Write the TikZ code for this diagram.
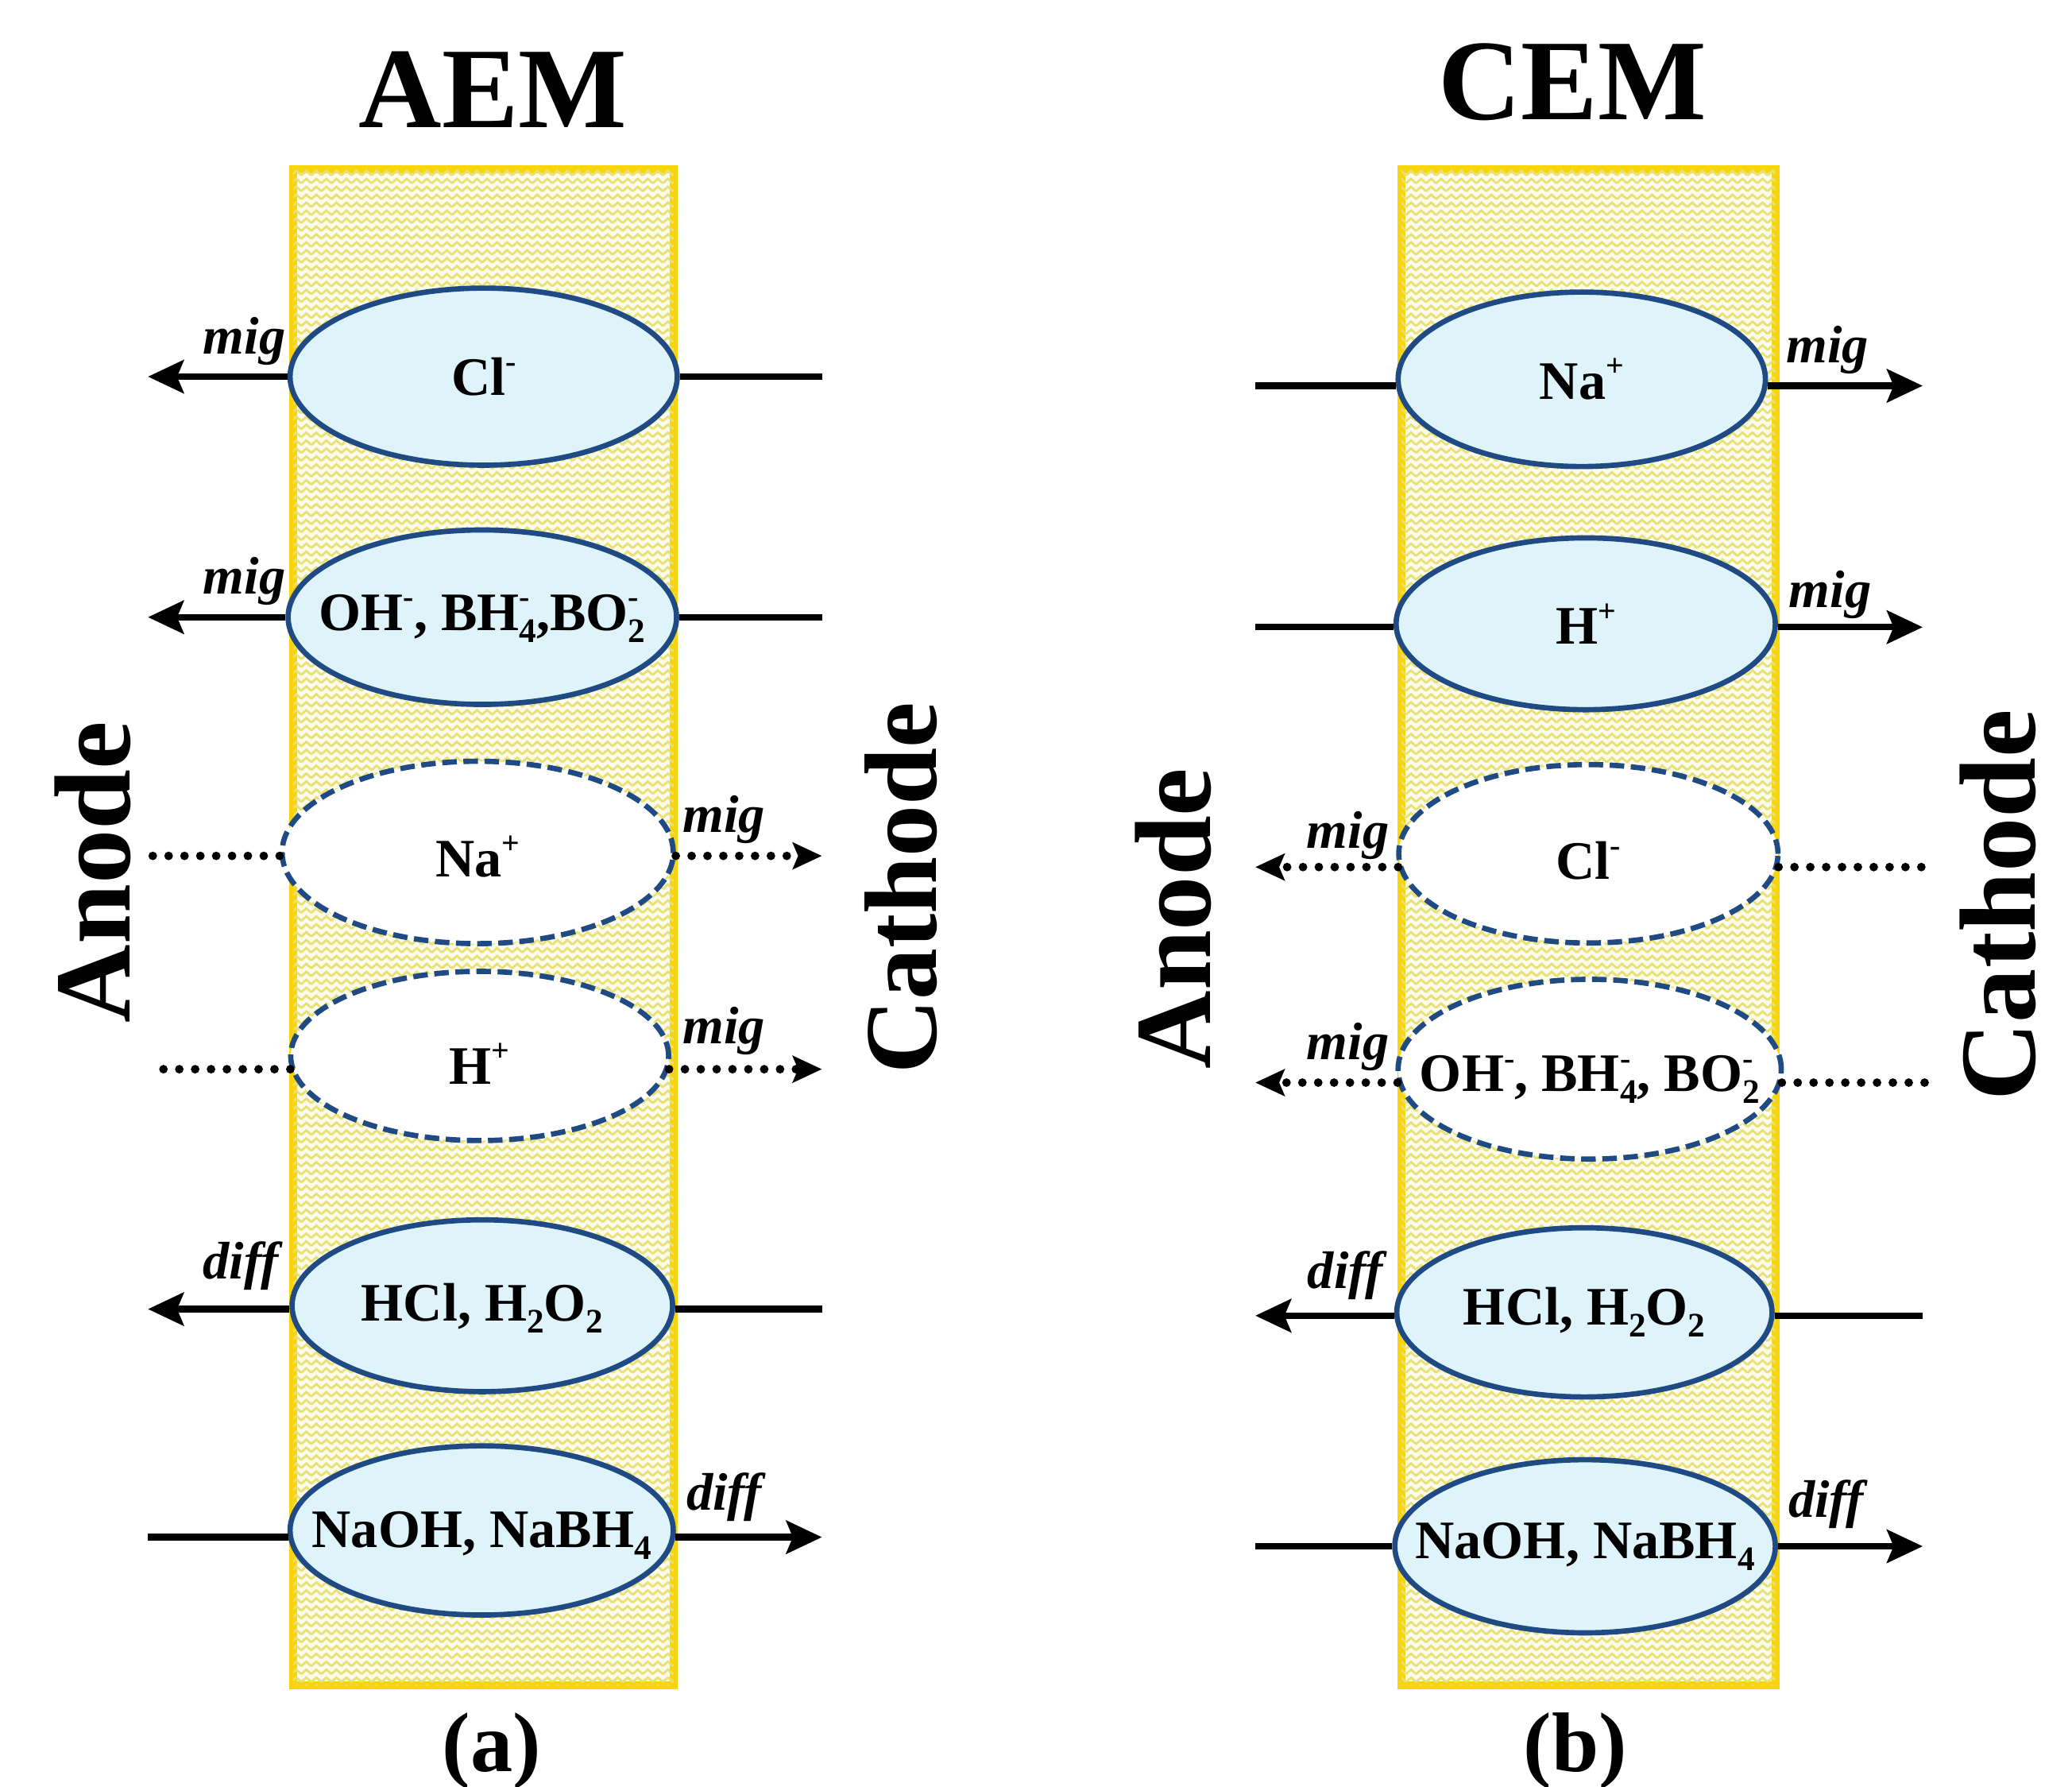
\documentclass[tikz,border=0pt]{standalone}
\usepackage{fontspec}
\setmainfont{Liberation Serif}
\usetikzlibrary{shapes.geometric,arrows.meta,patterns.meta}
\definecolor{ebord}{RGB}{32,74,132}
\definecolor{efill}{RGB}{222,243,250}
\definecolor{mbord}{RGB}{248,212,10}
\definecolor{mzig}{RGB}{232,226,118}
\definecolor{mbg}{RGB}{253,251,236}
\newcommand\myfs[1]{\fontsize{#1}{#1}\selectfont}
\newcommand\supx[1]{\raisebox{0.42em}{\myfs{24}#1}}
\newcommand\subx[1]{\raisebox{-0.22em}{\myfs{26}#1}}
\newcommand\supm{\supx{-}}
\tikzdeclarepattern{
  name=zz,
  type=uncolored,
  bounding box={(-1pt,-1pt) and (8.6pt,7pt)},
  tile size={(7.6pt,6pt)},
  code={\draw[line width=1.7pt] (0pt,1.3pt) -- (3.8pt,4.7pt) -- (7.6pt,1.3pt);}
}
\begin{document}
\begin{tikzpicture}[x=1pt,y=-1pt,
  ion/.style={ellipse, draw=ebord, line width=4pt, fill=efill, inner sep=0pt},
  ionx/.style={ellipse, draw=ebord, line width=4pt, fill=white, dash pattern=on 11pt off 5pt, inner sep=0pt},
  txt/.style={font=\myfs{41}\bfseries, inner sep=0pt},
  tag/.style={font=\myfs{40}\bfseries\itshape, inner sep=0pt},
  big/.style={font=\myfs{82}\bfseries, inner sep=0pt},
  flow/.style={line width=5pt},
  arr/.style={line width=5pt, -{Stealth[length=27pt,width=25pt,inset=5pt]}},
  dotl/.style={line width=6.5pt, line cap=round, dash pattern=on 0pt off 12pt},
  dotarr/.style={line width=6.5pt, line cap=round, dash pattern=on 0pt off 12pt, -{Stealth[length=22pt,width=20pt,inset=4pt]}},
  membrane/.style={draw=mbord, line width=6pt, fill=mbg, postaction={pattern=zz, pattern color=mzig}}
  ]
\useasboundingbox (0,0) rectangle (1568,1352);
\fill[white] (0,0) rectangle (1568,1352);

% free ends
\coordinate (aL) at (112,0);
\coordinate (aR) at (622,0);
\coordinate (bL) at (950,0);
\coordinate (bR) at (1455,0);
\coordinate (bRd) at (1460,0);

% membranes
\node[membrane, minimum width=288pt, minimum height=1147pt, inner sep=0pt] (memA) at (366,701.5) {};
\node[membrane, minimum width=283pt, minimum height=1147pt, inner sep=0pt] (memB) at (1202,701.5) {};

% titles
\node[big, font=\myfs{87}\bfseries] (tA) at (373,68) {AEM};
\node[big, font=\myfs{87}\bfseries] (tB) at (1190,62) {CEM};
\node[big, font=\myfs{64}\bfseries] (capA) at (372,1325) {(a)};
\node[big, font=\myfs{64}\bfseries] (capB) at (1192,1325) {(b)};

\node[big, rotate=90] (anA) at (70,660) {Anode};
\node[big, rotate=90, font=\myfs{78}\bfseries] (caA) at (682,672) {Cathode};
\node[big, rotate=90] (anB) at (888,695) {Anode};
\node[big, rotate=90] (caB) at (1512,685) {Cathode};

% ---------- panel (a)
\node[ion, minimum width=293pt, minimum height=134pt] (a1) at (366,285) {};
\node[ion, minimum width=294pt, minimum height=132pt] (a2) at (365,467) {};
\node[ionx, minimum width=296pt, minimum height=138pt] (a3) at (361.5,645) {};
\node[ionx, minimum width=286pt, minimum height=128pt] (a4) at (363,799) {};
\node[ion, minimum width=288pt, minimum height=130pt] (a5) at (365,988) {};
\node[ion, minimum width=290pt, minimum height=128pt] (a6) at (364.5,1158) {};

\node[txt] at (a1) {Cl\supm};
\node[txt] at ([yshift=-1pt]a2) {OH\supm, BH\rlap{\supm}\subx{4},BO\rlap{\supm}\subx{2}};
\node[txt] at ([yshift=-3pt]a3) {Na\supx{+}};
\node[txt] at ([yshift=-6pt]a4) {H\supx{+}};
\node[txt] at ([yshift=-2pt]a5) {HCl, H\subx{2}O\subx{2}};
\node[txt] at ([yshift=-4pt]a6) {NaOH, NaBH\subx{4}};

\draw[arr]  (a1.west) -- (a1.west -| aL);
\draw[flow] (a1.east) -- (a1.east -| aR);
\draw[arr]  (a2.west) -- (a2.west -| aL);
\draw[flow] (a2.east) -- (a2.east -| aR);
\draw[dotl] (a3.181) -- (a3.181 -| aL);
\draw[dotarr] (a3.-1) -- (a3.-1 -| aR);
\draw[dotl] (a4.184) -- (a4.184 -| aL);
\draw[dotarr] (a4.-4) -- (a4.-4 -| aR);
\draw[arr]  (a5.181) -- (a5.181 -| aL);
\draw[flow] (a5.-1) -- (a5.-1 -| aR);
\draw[flow] (a6.182) -- (a6.182 -| aL);
\draw[arr]  (a6.-2) -- (a6.-2 -| aR);

\node[tag] (ma1) at (185,258) {mig};
\node[tag] (ma2) at (185,440) {mig};
\node[tag] (ma3) at (548,620) {mig};
\node[tag] (ma4) at (548,780) {mig};
\node[tag] (da5) at (182,958) {diff};
\node[tag] (da6) at (548,1133) {diff};

% ---------- panel (b)
\node[ion, minimum width=278pt, minimum height=132pt] (b1) at (1197,287) {};
\node[ion, minimum width=287pt, minimum height=130pt] (b2) at (1200,472) {};
\node[ionx, minimum width=287pt, minimum height=135pt] (b3) at (1202,646) {};
\node[ionx, minimum width=290pt, minimum height=136pt] (b4) at (1203,809) {};
\node[ion, minimum width=284pt, minimum height=128pt] (b5) at (1199,993) {};
\node[ion, minimum width=288pt, minimum height=131pt] (b6) at (1199.5,1170) {};

\node[txt] at (b1) {Na\supx{+}};
\node[txt] at (b2) {H\supx{+}};
\node[txt] at ([yshift=-5pt]b3) {Cl\supm};
\node[txt] at ([yshift=-8pt]b4) {OH\supm, BH\rlap{\supm}\subx{4}, BO\rlap{\supm}\subx{2}};
\node[txt] at (b5) {HCl, H\subx{2}O\subx{2}};
\node[txt] at (b6) {NaOH, NaBH\subx{4}};

\draw[flow] (b1.182) -- (b1.182 -| bL);
\draw[arr]  (b1.-2) -- (b1.-2 -| bR);
\draw[flow] (b2.181) -- (b2.181 -| bL);
\draw[arr]  (b2.-1) -- (b2.-1 -| bR);
\draw[dotarr] (b3.184) -- (b3.184 -| bL);
\draw[dotl] (b3.-4) -- (b3.-4 -| bRd);
\draw[dotarr] (b4.184) -- (b4.184 -| bL);
\draw[dotl] (b4.-4) -- (b4.-4 -| bRd);
\draw[arr]  (b5.181) -- (b5.181 -| bL);
\draw[flow] (b5.-1) -- (b5.-1 -| bR);
\draw[flow] (b6.west) -- (b6.west -| bL);
\draw[arr]  (b6.east) -- (b6.east -| bR);

\node[tag] (mb1) at (1383,265) {mig};
\node[tag] (mb2) at (1385,450) {mig};
\node[tag] (mb3) at (1020,632) {mig};
\node[tag] (mb4) at (1020,792) {mig};
\node[tag] (db5) at (1018,965) {diff};
\node[tag] (db6) at (1382,1138) {diff};
\end{tikzpicture}
\end{document}
